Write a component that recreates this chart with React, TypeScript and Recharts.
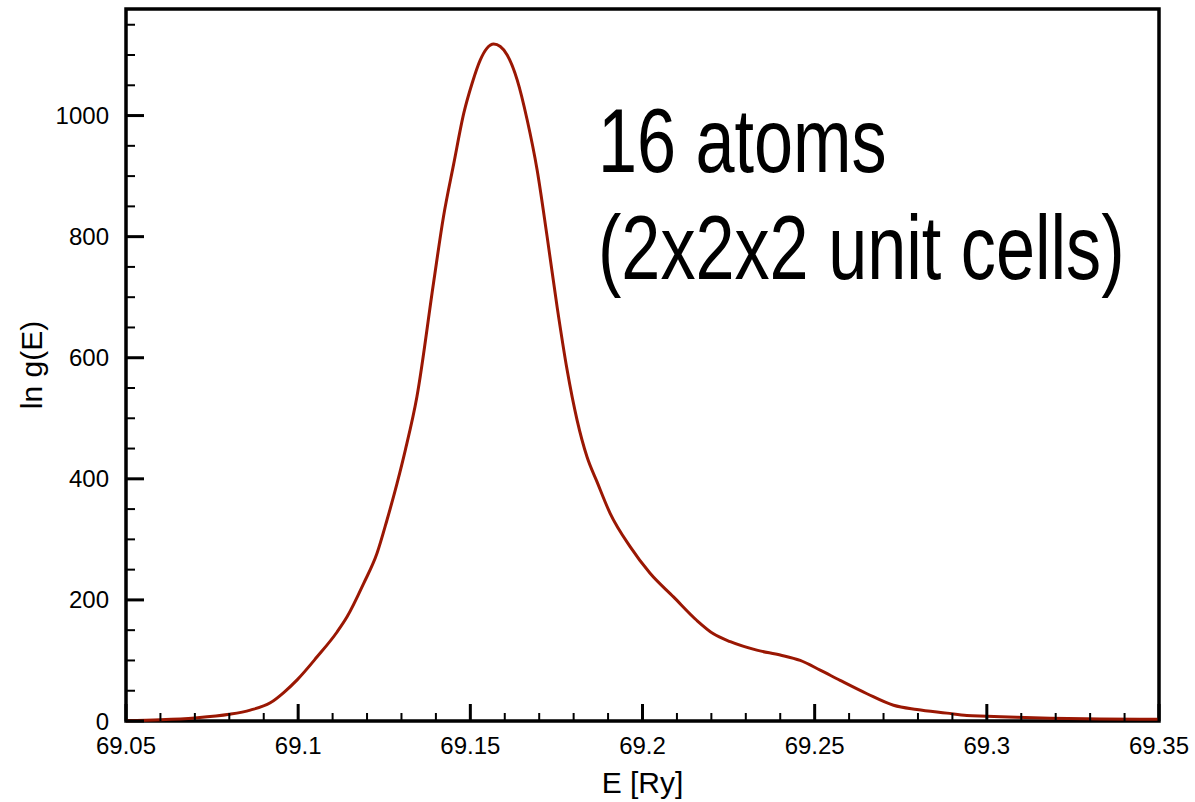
import React from 'react';
import { LineChart, Line, XAxis, YAxis, ReferenceArea } from 'recharts';

// density of states curve, E in Ry
const energy = [
  69.05, 69.06, 69.07, 69.08, 69.0861, 69.0919, 69.0958, 69.0997, 69.1055, 69.1113,
  69.1142, 69.119, 69.1229, 69.1258, 69.1287, 69.1311, 69.1345, 69.1393, 69.1422, 69.1452,
  69.1481, 69.1505, 69.1529, 69.1548, 69.1568, 69.1587, 69.1607, 69.1636, 69.1665, 69.1694,
  69.1723, 69.1752, 69.1781, 69.181, 69.1839, 69.1868, 69.1906, 69.1964, 69.2022, 69.209,
  69.2158, 69.2206, 69.2255, 69.2332, 69.24, 69.2458, 69.2516, 69.2574, 69.2652, 69.2729,
  69.2797, 69.2884, 69.2942, 69.3, 69.3087, 69.3184, 69.3329, 69.3493, 69.35,
];
const lnG = [
  0.5, 2, 5, 11, 18, 30, 47, 68, 106, 147,
  172, 227, 277, 332, 392, 447, 536, 723, 833, 921,
  1004, 1053, 1092, 1111, 1118, 1114, 1100, 1059, 993, 910,
  800, 684, 580, 497, 436, 395, 343, 288, 244, 205,
  166, 144, 131, 117, 109, 100, 84, 67, 45, 26,
  19, 13, 9, 8, 6, 4.5, 3.5, 3, 3,
];

const xTicks = [
  69.05, 69.06, 69.07, 69.08, 69.09, 69.1, 69.11, 69.12, 69.13, 69.14,
  69.15, 69.16, 69.17, 69.18, 69.19, 69.2, 69.21, 69.22, 69.23, 69.24,
  69.25, 69.26, 69.27, 69.28, 69.29, 69.3, 69.31, 69.32, 69.33, 69.34, 69.35,
];
const xLabels = [69.05, 69.1, 69.15, 69.2, 69.25, 69.3, 69.35];
const yTicks = [
  0, 50, 100, 150, 200, 250, 300, 350, 400, 450, 500, 550,
  600, 650, 700, 750, 800, 850, 900, 950, 1000, 1050, 1100, 1150,
];
const yLabels = [0, 200, 400, 600, 800, 1000];

const data = energy.map((e, i) => ({ e, g: lnG[i] }));

const FONT = '"Liberation Sans", Arial, Helvetica, sans-serif';

// ticks point into the plot, long ones carry the labels
const XTick = (props: any) => {
  const { x, y, payload } = props;
  const major = xLabels.includes(payload.value);
  return (
    <g>
      <line x1={x} y1={y} x2={x} y2={y - (major ? 17 : 8)} stroke="#000" strokeWidth={major ? 3 : 2} />
      {major && (
        <text x={x} y={y + 33} textAnchor="middle" fontSize={24} fontFamily={FONT} fill="#000">
          {payload.value}
        </text>
      )}
    </g>
  );
};

const YTick = (props: any) => {
  const { x, y, payload } = props;
  const major = yLabels.includes(payload.value);
  return (
    <g>
      <line x1={x} y1={y} x2={x + (major ? 18 : 9)} y2={y} stroke="#000" strokeWidth={major ? 3 : 2} />
      {major && (
        <text x={x - 17} y={y + 8.5} textAnchor="end" fontSize={24} fontFamily={FONT} fill="#000">
          {payload.value}
        </text>
      )}
    </g>
  );
};

const XTitle = (props: any) => {
  const { viewBox } = props;
  const cx = viewBox.x + viewBox.width / 2;
  return (
    <text x={cx} y={793} textAnchor="middle" fontSize={30} fontFamily={FONT} fill="#000">
      E [Ry]
    </text>
  );
};

const YTitle = (props: any) => {
  const { viewBox } = props;
  const cy = viewBox.y + viewBox.height / 2;
  return (
    <text
      x={42}
      y={cy}
      transform={`rotate(-90, 42, ${cy})`}
      textAnchor="middle"
      fontSize={30}
      fontFamily={FONT}
      fill="#000"
    >
      ln g(E)
    </text>
  );
};

export default function App() {
  return (
    <div style={{ position: 'absolute', left: 0, top: 0, width: 1195, height: 802, background: '#fff' }}>
      <LineChart width={1195} height={802} data={data} margin={{ top: 9, right: 36, bottom: 0, left: 0 }}>
        <XAxis
          dataKey="e"
          type="number"
          domain={[69.05, 69.35]}
          ticks={xTicks}
          interval={0}
          tickSize={0}
          tickMargin={0}
          tickLine={false}
          axisLine={false}
          tick={<XTick />}
          height={81}
          label={{ content: <XTitle /> }}
        />
        <YAxis
          type="number"
          domain={[0, 1176]}
          ticks={yTicks}
          interval={0}
          tickSize={0}
          tickMargin={0}
          tickLine={false}
          axisLine={false}
          tick={<YTick />}
          width={126}
          label={{ content: <YTitle /> }}
        />
        <ReferenceArea
          x1={69.05}
          x2={69.35}
          y1={0}
          y2={1176}
          ifOverflow="visible"
          fill="none"
          stroke="#000"
          strokeOpacity={1}
          strokeWidth={3.5}
        />
        <Line
          type="monotone"
          dataKey="g"
          stroke="#9a1703"
          strokeWidth={3}
          dot={false}
          activeDot={false}
          isAnimationActive={false}
        />
      </LineChart>
      {/* condensed annotation text in the upper right of the plot */}
      <svg width={1195} height={802} style={{ position: 'absolute', left: 0, top: 0, pointerEvents: 'none' }}>
        <g transform="translate(598, 0) scale(0.78, 1)">
          <text x={0} y={172} fontSize={90} fontFamily={FONT} fill="#000">
            16 atoms
          </text>
          <text x={0} y={279} fontSize={90} fontFamily={FONT} fill="#000">
            (2x2x2 unit cells)
          </text>
        </g>
      </svg>
    </div>
  );
}
